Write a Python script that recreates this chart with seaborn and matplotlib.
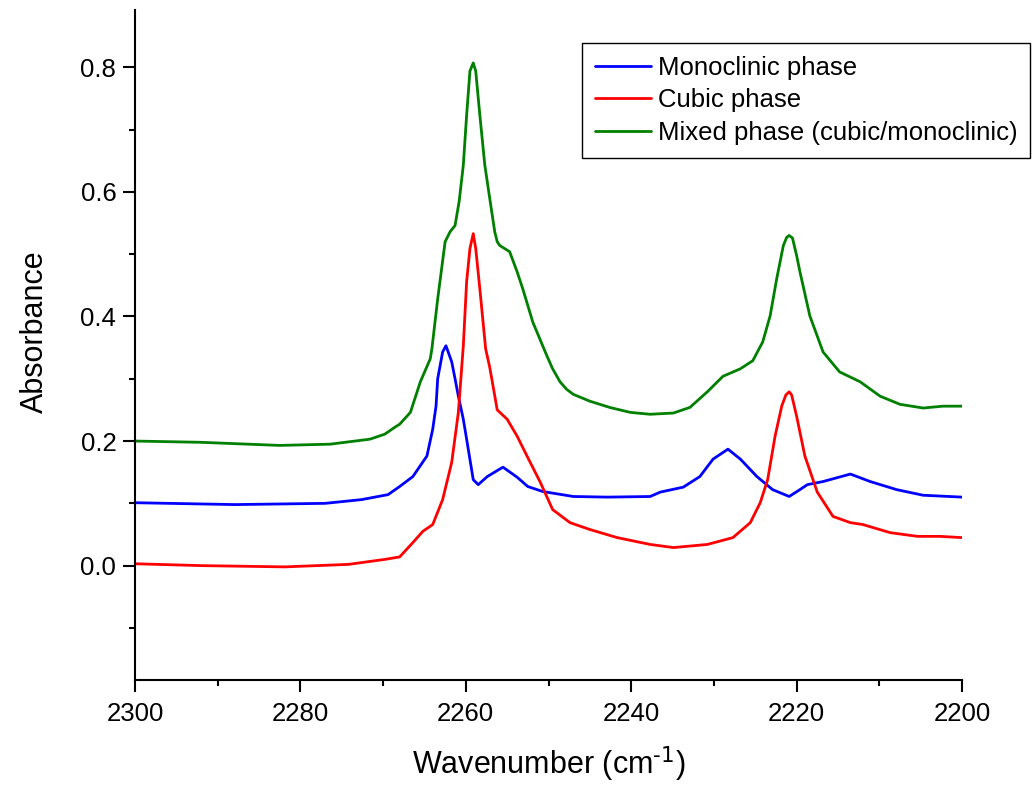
import numpy as np
import pandas as pd
import matplotlib
matplotlib.use("Agg")
import matplotlib.pyplot as plt
from matplotlib.ticker import MultipleLocator, FixedLocator
import seaborn as sns

# ---- data (wavenumber in cm^-1, absorbance) ----
mono_wn = [2300.0, 2287.9, 2277.0, 2272.6, 2269.4, 2268.0, 2266.4, 2264.7, 2264.0,
           2263.6, 2263.4, 2262.8, 2262.4, 2261.7, 2261.3, 2260.9, 2260.3, 2259.9,
           2259.1, 2258.5, 2257.4,
           2255.9, 2255.5, 2253.8, 2252.5, 2250.7, 2247.0, 2242.9, 2237.7, 2236.5,
           2233.7, 2231.7, 2230.1, 2228.3, 2226.8, 2224.8, 2222.9, 2220.9, 2219.6,
           2218.7, 2216.8, 2213.5, 2211.1, 2207.9, 2204.7, 2200.0]
mono_abs = [0.101, 0.098, 0.100, 0.106, 0.114, 0.127, 0.143, 0.176, 0.219,
            0.256, 0.300, 0.343, 0.353, 0.327, 0.300, 0.272, 0.235, 0.203,
            0.138, 0.130, 0.143,
            0.155, 0.158, 0.142, 0.127, 0.119, 0.111, 0.110, 0.111, 0.118,
            0.126, 0.143, 0.171, 0.187, 0.171, 0.143, 0.122, 0.111, 0.122,
            0.130, 0.135, 0.147, 0.135, 0.122, 0.113, 0.110]

cubic_wn = [2300.0, 2291.9, 2281.9, 2274.2, 2269.8, 2268.0, 2266.4, 2265.2, 2264.0,
            2262.8, 2261.7, 2260.9, 2260.3, 2259.9, 2259.5, 2259.1, 2258.8, 2258.3,
            2257.6, 2257.1, 2256.2, 2255.0, 2253.8, 2252.6, 2251.0, 2249.5, 2247.4,
            2245.0, 2241.7, 2237.7, 2234.9, 2230.8, 2227.7, 2225.6, 2224.4, 2223.5,
            2222.6, 2221.8, 2221.3, 2220.9, 2220.6, 2220.0, 2219.0, 2217.5, 2215.6,
            2213.5, 2212.0, 2208.7, 2205.4, 2202.7, 2200.0]
cubic_abs = [0.003, 0.000, -0.002, 0.002, 0.010, 0.014, 0.037, 0.055, 0.066,
             0.106, 0.166, 0.246, 0.353, 0.456, 0.509, 0.533, 0.509, 0.444,
             0.348, 0.318, 0.250, 0.235, 0.208, 0.176, 0.134, 0.090, 0.069,
             0.058, 0.045, 0.034, 0.029, 0.034, 0.045, 0.069, 0.101, 0.138,
             0.208, 0.256, 0.274, 0.279, 0.274, 0.240, 0.176, 0.118, 0.079,
             0.069, 0.066, 0.053, 0.047, 0.047, 0.045]

mixed_wn = [2300.0, 2292.1, 2282.5, 2276.4, 2271.6, 2269.8, 2268.6, 2268.0, 2266.7,
            2265.5, 2264.3, 2264.1, 2263.4, 2262.5, 2261.9, 2261.3, 2260.8, 2260.3,
            2259.9, 2259.5, 2259.1, 2258.8, 2258.3, 2257.7, 2257.1, 2256.5, 2256.2,
            2255.9, 2254.7, 2253.8, 2253.1, 2251.9, 2250.2, 2249.5, 2248.6, 2247.8,
            2247.0, 2245.0, 2242.6,
            2240.1, 2237.7, 2234.9, 2232.9, 2230.8, 2228.9, 2226.8, 2225.3, 2224.1,
            2223.2, 2222.4, 2221.6, 2221.2, 2220.9, 2220.5, 2220.0, 2219.6, 2218.4,
            2216.8, 2214.8, 2212.3, 2209.9, 2207.5, 2204.7, 2202.3, 2200.0]
mixed_abs = [0.200, 0.198, 0.193, 0.195, 0.203, 0.211, 0.222, 0.227, 0.246,
             0.295, 0.332, 0.348, 0.428, 0.520, 0.536, 0.546, 0.585, 0.643,
             0.723, 0.794, 0.807, 0.794, 0.723, 0.643, 0.589, 0.536, 0.520,
             0.514, 0.504, 0.472, 0.444, 0.391, 0.337, 0.316, 0.295, 0.283,
             0.275, 0.264, 0.254,
             0.246, 0.243, 0.245, 0.254, 0.279, 0.304, 0.316, 0.329, 0.359,
             0.401, 0.461, 0.514, 0.527, 0.530, 0.526, 0.498, 0.472, 0.401,
             0.343, 0.311, 0.295, 0.272, 0.259, 0.253, 0.256, 0.256]

series_names = ["Monoclinic phase", "Cubic phase", "Mixed phase (cubic/monoclinic)"]
series_colors = ["#0000ff", "#ff0000", "#008000"]
x_ticks = [2300, 2280, 2260, 2240, 2220, 2200]
y_ticks = [0.0, 0.2, 0.4, 0.6, 0.8]

df = pd.concat([
    pd.DataFrame({"wn": mono_wn, "abs": mono_abs, "phase": series_names[0]}),
    pd.DataFrame({"wn": cubic_wn, "abs": cubic_abs, "phase": series_names[1]}),
    pd.DataFrame({"wn": mixed_wn, "abs": mixed_abs, "phase": series_names[2]}),
], ignore_index=True)

sns.set_style("ticks")
plt.rcParams["font.family"] = ["Liberation Sans", "DejaVu Sans"]
plt.rcParams["mathtext.default"] = "regular"
plt.rcParams["axes.unicode_minus"] = False
plt.rcParams["text.color"] = "black"
plt.rcParams["axes.labelcolor"] = "black"

fig = plt.figure(figsize=(10.34, 7.85), dpi=100)
ax = fig.add_axes([135 / 1034, 105 / 785, 827 / 1034, 670 / 785])

sns.lineplot(data=df, x="wn", y="abs", hue="phase", hue_order=series_names,
             palette=dict(zip(series_names, series_colors)), estimator=None,
             sort=False, linewidth=2.0, ax=ax, legend=False)

ax.set_xlim(2300, 2200)
ax.set_ylim(-0.1836, 0.892)
ax.xaxis.set_major_locator(FixedLocator(x_ticks))
ax.xaxis.set_minor_locator(MultipleLocator(10))
ax.yaxis.set_major_locator(FixedLocator(y_ticks))
ax.yaxis.set_minor_locator(MultipleLocator(0.1))
ax.set_xticklabels([str(t) for t in x_ticks])
ax.set_yticklabels([f"{t:.1f}" for t in y_ticks])

for s in ["top", "right"]:
    ax.spines[s].set_visible(False)
for s in ["left", "bottom"]:
    ax.spines[s].set_linewidth(1.5)
    ax.spines[s].set_color("black")

ax.tick_params(which="major", direction="out", length=8.5, width=1.5,
               labelsize=18.5, colors="black", labelcolor="black")
ax.tick_params(axis="x", which="major", pad=7)
ax.tick_params(axis="y", which="major", pad=5)
ax.tick_params(which="minor", direction="out", length=4.5, width=1.5, colors="black")

ax.set_xlabel(r"Wavenumber (cm$^{\text{-1}}$)", fontsize=22, labelpad=14, color="black")
ax.set_ylabel("Absorbance", fontsize=22, color="black")
ax.yaxis.set_label_coords(-0.103, 0.52)

handles = [plt.Line2D([], [], color=c, linewidth=2.0) for c in series_colors]
leg = ax.legend(handles, series_names, loc="upper right",
                bbox_to_anchor=(1030 / 1034, 1 - 43 / 785),
                bbox_transform=fig.transFigure, borderaxespad=0,
                fontsize=18.5, frameon=True, fancybox=False, edgecolor="black",
                framealpha=1, handlelength=2.2, handletextpad=0.25,
                labelspacing=0.33, borderpad=0.5)
leg.get_frame().set_linewidth(1.0)
for t in leg.get_texts():
    t.set_color("black")

fig.savefig("out.png", dpi=100, facecolor="white")
